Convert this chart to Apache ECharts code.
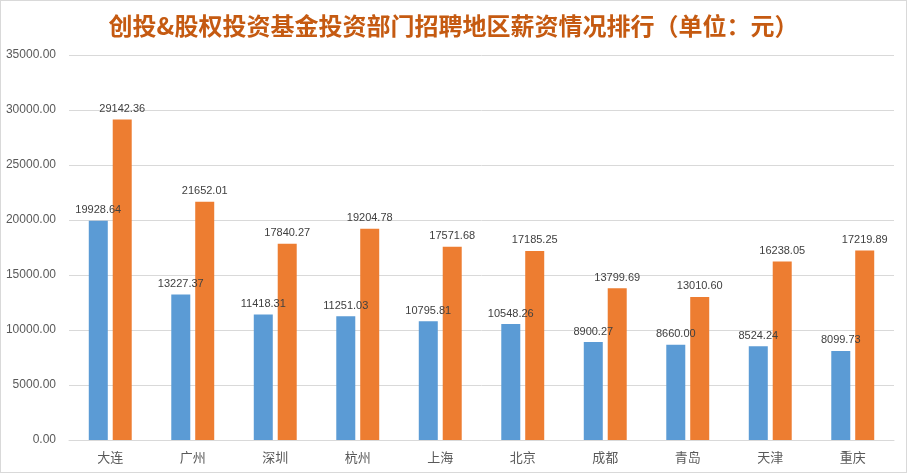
<!DOCTYPE html>
<html><head><meta charset="utf-8">
<script src="https://cdn.jsdelivr.net/npm/echarts@6/dist/echarts.min.js"></script>
<style>html,body{margin:0;padding:0;background:#fff}#c{width:905px;height:471px;border:1px solid #d9d9d9}</style>
</head><body><div id="c"></div>
<script>
const categories = ['大连','广州','深圳','杭州','上海','北京','成都','青岛','天津','重庆'];
const seriesA = [19928.64, 13227.37, 11418.31, 11251.03, 10795.81, 10548.26, 8900.27, 8660.00, 8524.24, 8099.73];
const seriesB = [29142.36, 21652.01, 17840.27, 19204.78, 17571.68, 17185.25, 13799.69, 13010.60, 16238.05, 17219.89];
const titleText = '创投&股权投资基金投资部门招聘地区薪资情况排行（单位：元）';
const chart = echarts.init(document.getElementById('c'));
const lbl = {show:true, position:'top', distance:5, color:'#404040', fontSize:11, fontFamily:'Liberation Sans, Arial', formatter:p=>p.value.toFixed(2)};
chart.setOption({
  animation:false,
  title:{text:titleText, left:'center', top:8, textStyle:{color:'#C55A11', fontSize:24, fontWeight:'bold', fontFamily:'Noto Sans CJK SC'}},
  grid:{left:68, right:12, top:54, bottom:32, containLabel:false},
  xAxis:{type:'category', data:categories, axisLine:{lineStyle:{color:'#d9d9d9'}}, axisTick:{show:false},
    axisLabel:{color:'#595959', fontSize:13, margin:11, fontFamily:'Noto Sans CJK SC'}},
  yAxis:{type:'value', min:0, max:35000, interval:5000, axisLine:{show:false}, axisTick:{show:false},
    splitLine:{lineStyle:{color:'#d9d9d9'}},
    axisLabel:{color:'#595959', fontSize:12, margin:13, fontFamily:'Liberation Sans, Arial', formatter:v=>v.toFixed(2)}},
  series:[
    {type:'bar', data:seriesA, barWidth:19, barGap:'26%', itemStyle:{color:'#5B9BD5'}, label:lbl},
    {type:'bar', data:seriesB, barWidth:19, itemStyle:{color:'#ED7D31'}, label:lbl}
  ]
});
</script></body></html>
